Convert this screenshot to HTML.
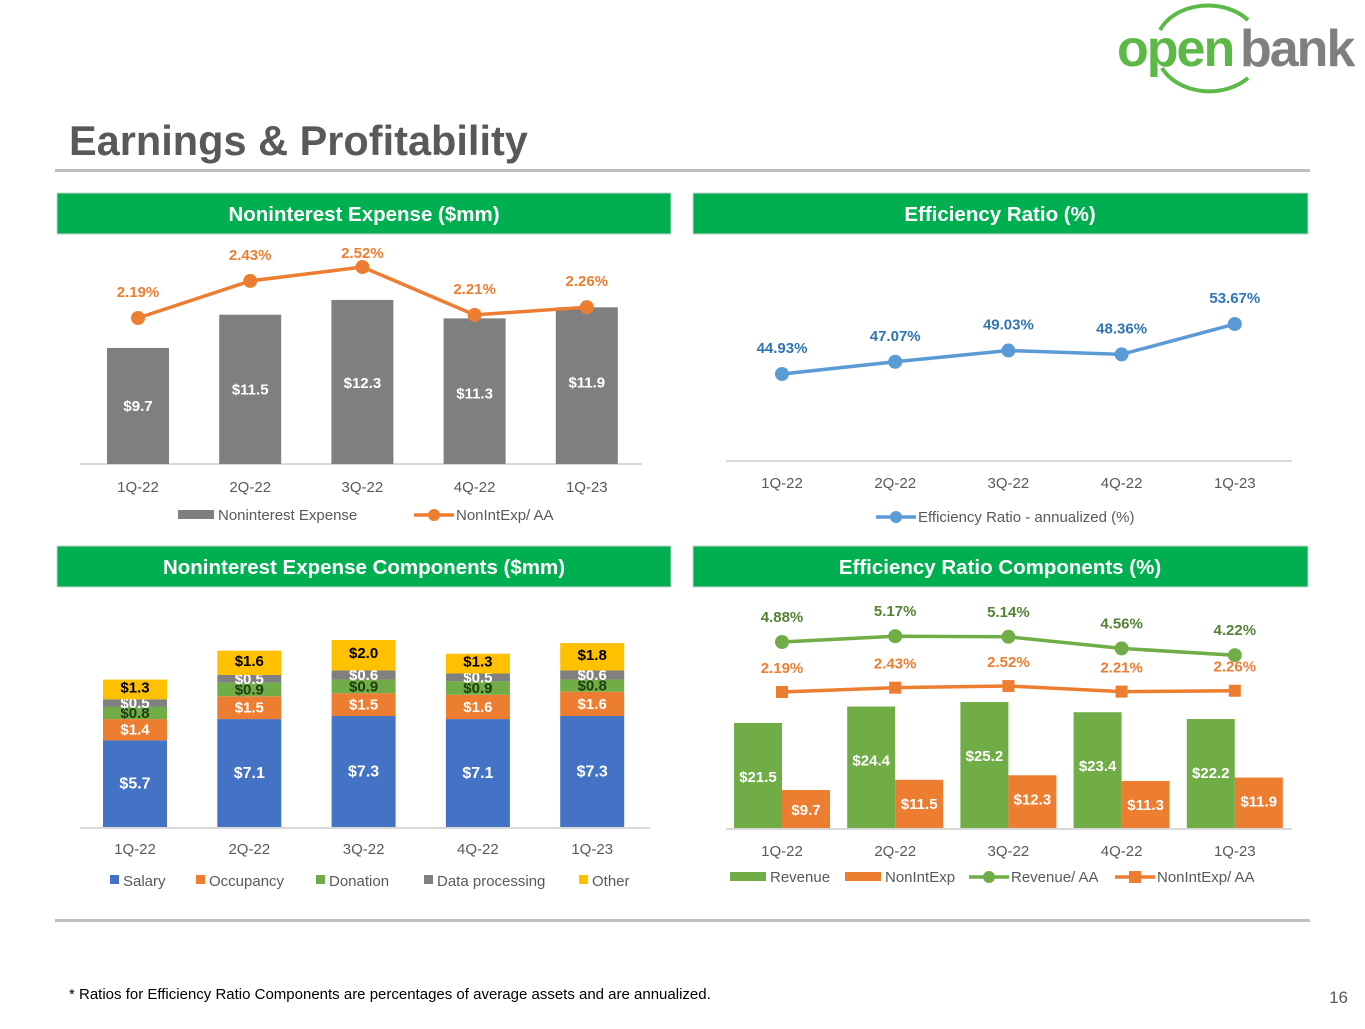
<!DOCTYPE html>
<html><head><meta charset="utf-8"><style>
body{margin:0;background:#fff;width:1365px;height:1024px;overflow:hidden;font-family:"Liberation Sans",sans-serif}
svg text{font-family:"Liberation Sans",sans-serif}
</style></head><body>
<svg id="s" width="1365" height="1024" viewBox="0 0 1365 1024">
<g>
<path d="M1160 30 A52 40 0 0 1 1248 20" fill="none" stroke="#5cb947" stroke-width="4"/>
<path d="M1162 68 A52 40 0 0 0 1248 78" fill="none" stroke="#5cb947" stroke-width="4"/>
<text x="1117" y="66" font-size="52" font-weight="bold" fill="#5cb947" letter-spacing="-2">open</text>
<text x="1240" y="66" font-size="52" font-weight="bold" fill="#7f7f7f" letter-spacing="-2">bank</text>
</g>
<text x="69" y="155" font-size="41.5" font-weight="bold" fill="#595959">Earnings &amp; Profitability</text>
<rect x="55" y="169" width="1255" height="3" fill="#bfbfbf"/>
<rect x="55" y="919" width="1255" height="3" fill="#bfbfbf"/>
<g><rect x="57" y="193" width="614" height="41" fill="#00b050" stroke="#cfcfcf"/><text x="364" y="221" text-anchor="middle" font-size="20.5" font-weight="bold" fill="#fff">Noninterest Expense ($mm)</text></g>
<g><rect x="693" y="193" width="615" height="41" fill="#00b050" stroke="#cfcfcf"/><text x="1000" y="221" text-anchor="middle" font-size="20.5" font-weight="bold" fill="#fff">Efficiency Ratio (%)</text></g>
<g><rect x="57" y="546" width="614" height="41" fill="#00b050" stroke="#cfcfcf"/><text x="364" y="574" text-anchor="middle" font-size="20.5" font-weight="bold" fill="#fff">Noninterest Expense Components ($mm)</text></g>
<g><rect x="693" y="546" width="615" height="41" fill="#00b050" stroke="#cfcfcf"/><text x="1000" y="574" text-anchor="middle" font-size="20.5" font-weight="bold" fill="#fff">Efficiency Ratio Components (%)</text></g>
<text x="69" y="999" font-size="15" fill="#000">* Ratios for Efficiency Ratio Components are percentages of average assets and are annualized.</text>
<text x="1348" y="1003" font-size="17" fill="#595959" text-anchor="end">16</text>
</svg>
<script>
const quarters=["1Q-22","2Q-22","3Q-22","4Q-22","1Q-23"];
const nieValues=[9.7,11.5,12.3,11.3,11.9];
const nieAA=[2.19,2.43,2.52,2.21,2.26];
const effRatio=[44.93,47.07,49.03,48.36,53.67];
const salary=[5.7,7.1,7.3,7.1,7.3];
const occupancy=[1.4,1.5,1.5,1.6,1.6];
const donation=[0.8,0.9,0.9,0.9,0.8];
const dataProc=[0.5,0.5,0.6,0.5,0.6];
const other=[1.3,1.6,2.0,1.3,1.8];
const revenue=[21.5,24.4,25.2,23.4,22.2];
const revAA=[4.88,5.17,5.14,4.56,4.22];
const nieAA2=[2.19,2.43,2.52,2.21,2.26];

const S=document.getElementById('s');const NS="http://www.w3.org/2000/svg";
function mk(tag,a,parent){const e=document.createElementNS(NS,tag);for(const k in a)e.setAttribute(k,a[k]);(parent||S).appendChild(e);return e;}
function tx(x,y,t,a,p){const e=mk('text',Object.assign({x:x,y:y,'text-anchor':'middle','font-size':15},a),p);e.textContent=t;return e;}

// Chart 1
const g1=mk('g',{});


const x1=i=>138+i*112.2, y1=v=>527-18.46*v, yl1=v=>318-(v-2.19)*154.5;
mk('line',{x1:80,x2:642,y1:464,y2:464,stroke:'#d9d9d9','stroke-width':2},g1);
nieValues.forEach((v,i)=>{
 const r=mk('rect',{x:x1(i)-31,y:y1(v),width:62,height:464-y1(v),fill:'#7f7f7f'},g1);
 
 
 tx(x1(i),y1(v)+(i==2?88:(i==0?63:80)),'$'+v.toFixed(1),{fill:'#fff','font-weight':'bold'},g1);
 tx(x1(i),492,quarters[i],{fill:'#595959'},g1);
});
mk('polyline',{points:nieAA.map((v,i)=>x1(i)+','+yl1(v)).join(' '),fill:'none',stroke:'#ed7d31','stroke-width':3.5},g1);
nieAA.forEach((v,i)=>{const c=mk('circle',{cx:x1(i),cy:yl1(v),r:7,fill:'#ed7d31'},g1);
 
 
 tx(x1(i),yl1(v)-(i==2?9:21),v.toFixed(2)+'%',{fill:'#ed7d31','font-weight':'bold'},g1);});
mk('rect',{x:178,y:510,width:36,height:9,fill:'#7f7f7f'},g1);tx(218,520,'Noninterest Expense',{'text-anchor':'start',fill:'#595959'},g1);
mk('line',{x1:414,x2:454,y1:515,y2:515,stroke:'#ed7d31','stroke-width':3.5},g1);mk('circle',{cx:434,cy:515,r:6,fill:'#ed7d31'},g1);
tx(456,520,'NonIntExp/ AA',{'text-anchor':'start',fill:'#595959'},g1);

// Chart 2
const g2=mk('g',{});


const x2=i=>782+i*113.2, y2=v=>374-(v-44.93)*5.72;
mk('line',{x1:726,x2:1292,y1:461,y2:461,stroke:'#d9d9d9','stroke-width':2},g2);
quarters.forEach((q,i)=>tx(x2(i),488,q,{fill:'#595959'},g2));
mk('polyline',{points:effRatio.map((v,i)=>x2(i)+','+y2(v)).join(' '),fill:'none',stroke:'#5b9bd5','stroke-width':3.5},g2);
effRatio.forEach((v,i)=>{const c=mk('circle',{cx:x2(i),cy:y2(v),r:7,fill:'#5b9bd5'},g2);
 
 
 tx(x2(i),y2(v)-21,v.toFixed(2)+'%',{fill:'#2e75b6','font-weight':'bold'},g2);});
mk('line',{x1:876,x2:916,y1:517,y2:517,stroke:'#5b9bd5','stroke-width':3.5},g2);mk('circle',{cx:896,cy:517,r:6,fill:'#5b9bd5'},g2);
tx(918,522,'Efficiency Ratio - annualized (%)',{'text-anchor':'start',fill:'#595959'},g2);

// Chart 3
const g3=mk('g',{});


const x3=i=>135+i*114.3, k3=15.2, base3=827;
const series=[[salary,'#4472c4','#fff','Salary'],[occupancy,'#ed7d31','#fff','Occupancy'],[donation,'#70ad47','#1e3d10','Donation'],[dataProc,'#808080','#fff','Data processing'],[other,'#ffc000','#000','Other']];
mk('line',{x1:80,x2:650,y1:828,y2:828,stroke:'#d9d9d9','stroke-width':2},g3);
quarters.forEach((q,i)=>{
 let cum=0;
 series.forEach((s,j)=>{const v=s[0][i];const yt=base3-(cum+v)*k3;const h=v*k3;
  const r=mk('rect',{x:x3(i)-32,y:yt,width:64,height:h,fill:s[1]},g3);
  
  
  tx(x3(i),yt+h/2+5+(j==4?-2:0),'$'+v.toFixed(1),{fill:s[2],'font-weight':'bold','font-size':j==0?16:15},g3);
  cum+=v;});
 tx(x3(i),854,q,{fill:'#595959'},g3);
});
let lx=[110,196,316,424,579];
series.forEach((s,j)=>{mk('rect',{x:lx[j],y:875,width:9,height:9,fill:s[1]},g3);tx(lx[j]+13,886,s[3],{'text-anchor':'start',fill:'#595959'},g3);});

// Chart 4
const g4=mk('g',{});


const x4=i=>782+i*113.2, y4=v=>723-(v-21.5)*5.68, yr=v=>642-(v-4.88)*20, yn=v=>692-(v-2.19)*18;
mk('line',{x1:726,x2:1292,y1:829,y2:829,stroke:'#d9d9d9','stroke-width':2},g4);
quarters.forEach((q,i)=>{
 const r1=mk('rect',{x:x4(i)-48,y:y4(revenue[i]),width:48,height:828-y4(revenue[i]),fill:'#70ad47'},g4);
 
 
 const r2=mk('rect',{x:x4(i),y:y4(nieValues[i]),width:48,height:828-y4(nieValues[i]),fill:'#ed7d31'},g4);
 
 
 tx(x4(i)-24,Math.min(y4(revenue[i])+59,782),'$'+revenue[i].toFixed(1),{fill:'#fff','font-weight':'bold'},g4);
 tx(x4(i)+24,y4(nieValues[i])+(i==0?25:29),'$'+nieValues[i].toFixed(1),{fill:'#fff','font-weight':'bold'},g4);
 tx(x4(i),856,q,{fill:'#595959'},g4);
});
mk('polyline',{points:revAA.map((v,i)=>x4(i)+','+yr(v)).join(' '),fill:'none',stroke:'#70ad47','stroke-width':3.5},g4);
mk('polyline',{points:nieAA2.map((v,i)=>x4(i)+','+yn(v)).join(' '),fill:'none',stroke:'#ed7d31','stroke-width':3.5},g4);
revAA.forEach((v,i)=>{const c=mk('circle',{cx:x4(i),cy:yr(v),r:7,fill:'#70ad47'},g4);
 
 
 tx(x4(i),yr(v)-20,v.toFixed(2)+'%',{fill:'#548235','font-weight':'bold'},g4);});
nieAA2.forEach((v,i)=>{const c=mk('rect',{x:x4(i)-6,y:yn(v)-6,width:12,height:12,fill:'#ed7d31'},g4);
 
 
 tx(x4(i),yn(v)-19,v.toFixed(2)+'%',{fill:'#ed7d31','font-weight':'bold'},g4);});
mk('rect',{x:730,y:872,width:36,height:9,fill:'#70ad47'},g4);tx(770,882,'Revenue',{'text-anchor':'start',fill:'#595959'},g4);
mk('rect',{x:845,y:872,width:36,height:9,fill:'#ed7d31'},g4);tx(885,882,'NonIntExp',{'text-anchor':'start',fill:'#595959'},g4);
mk('line',{x1:969,x2:1009,y1:877,y2:877,stroke:'#70ad47','stroke-width':3.5},g4);mk('circle',{cx:989,cy:877,r:6,fill:'#70ad47'},g4);
tx(1011,882,'Revenue/ AA',{'text-anchor':'start',fill:'#595959'},g4);
mk('line',{x1:1115,x2:1155,y1:877,y2:877,stroke:'#ed7d31','stroke-width':3.5},g4);mk('rect',{x:1129,y:871,width:12,height:12,fill:'#ed7d31'},g4);
tx(1157,882,'NonIntExp/ AA',{'text-anchor':'start',fill:'#595959'},g4);
</script>
</body></html>
